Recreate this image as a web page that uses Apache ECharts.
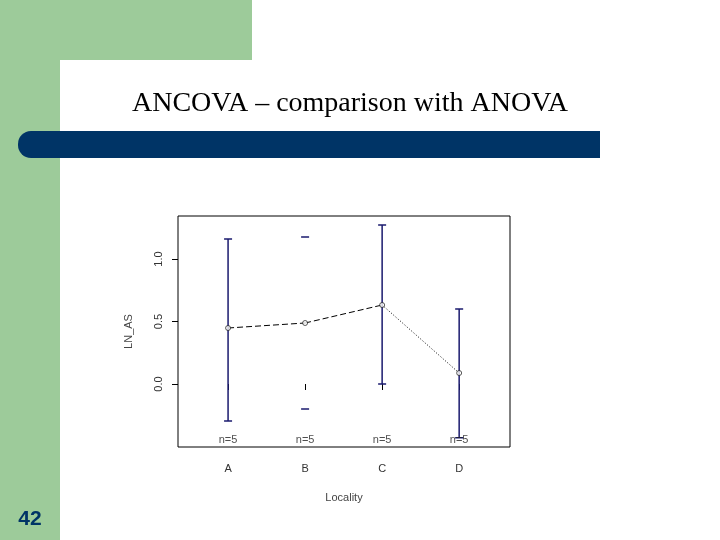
<!DOCTYPE html><html><head><meta charset="utf-8">
<script src="https://cdn.jsdelivr.net/npm/echarts@6/dist/echarts.min.js"></script>
<style>body{margin:0}#c{width:720px;height:540px}</style></head><body><div id="c"></div>
<script>
var categories=['A','B','C','D'];
var means=[0.448,0.488,0.632,0.088];
var upper=[1.16,1.176,1.272,0.6];
var lower=[-0.296,-0.2,0.0,-0.43];
var counts=['n=5','n=5','n=5','n=5'];
var yTicks=[0,0.5,1.0];
var chart=echarts.init(document.getElementById('c'));
function seg(i,type){return {type:'line',data:[[i+1,means[i]],[i+2,means[i+1]]],symbol:'none',silent:true,lineStyle:{color:'#000',width:1,type:type},z:3};}
chart.setOption({
 animation:false,
 graphic:[
  {type:'rect',shape:{x:0,y:0,width:60,height:540},style:{fill:'#9dcb9a'},z:-10},
  {type:'rect',shape:{x:0,y:0,width:252,height:60},style:{fill:'#9dcb9a'},z:-10},
  {type:'rect',shape:{x:60,y:60,width:300,height:300,r:[40,0,0,0]},style:{fill:'#fff'},z:-9},
  {type:'text',style:{text:'ANCOVA – comparison with ANOVA',x:350,y:104,align:'center',verticalAlign:'middle',font:'28px "Liberation Serif"',fill:'#000'}},
  {type:'rect',shape:{x:18,y:131,width:582,height:27,r:[13,0,0,13]},style:{fill:'#003466'}},
  {type:'text',style:{text:'42',x:30,y:519,align:'center',verticalAlign:'middle',font:'bold 21px "Liberation Sans"',fill:'#003466'}}
 ],
 grid:{left:178,top:216,width:332,height:231,show:true,borderColor:'#000',borderWidth:1,backgroundColor:'transparent'},
 xAxis:{type:'value',min:0.35,max:4.66,interval:1,name:'Locality',nameLocation:'middle',nameGap:45,
  nameTextStyle:{color:'#444',fontSize:11,fontFamily:'Liberation Sans'},
  axisLine:{show:false},splitLine:{show:false},
  axisTick:{show:true,customValues:[1,2,3,4],length:6,lineStyle:{color:'#000'}},
  axisLabel:{customValues:[1,2,3,4],formatter:function(v){return categories[Math.round(v)-1]||'';},color:'#333',fontSize:11,margin:16,fontFamily:'Liberation Sans'}},
 yAxis:{type:'value',min:-0.504,max:1.344,name:'LN_AS',nameLocation:'middle',nameGap:44,nameRotate:90,
  nameTextStyle:{color:'#444',fontSize:11,fontFamily:'Liberation Sans'},
  axisLine:{show:false},splitLine:{show:false},
  axisTick:{show:true,customValues:yTicks,length:6,lineStyle:{color:'#000'}},
  axisLabel:{customValues:yTicks,rotate:90,formatter:function(v){return v.toFixed(1);},color:'#333',fontSize:11,margin:14,fontFamily:'Liberation Sans'}},
 series:[
  {type:'custom',z:2,data:categories.map(function(c,i){return [i+1,lower[i],upper[i],i];}),
   renderItem:function(p,api){var x=api.value(0),lo=api.coord([x,api.value(1)]),hi=api.coord([x,api.value(2)]);
    var ch=[{type:'line',shape:{x1:lo[0]-4,y1:lo[1],x2:lo[0]+4,y2:lo[1]},style:{stroke:'#1a1a6e',lineWidth:1.5}},
            {type:'line',shape:{x1:hi[0]-4,y1:hi[1],x2:hi[0]+4,y2:hi[1]},style:{stroke:'#1a1a6e',lineWidth:1.5}}];
    if(api.value(3)!==1)ch.push({type:'line',shape:{x1:lo[0],y1:lo[1],x2:hi[0],y2:hi[1]},style:{stroke:'#1a1a6e',lineWidth:1.5}});
    return {type:'group',children:ch};}},
  seg(0,[6,3]),seg(1,[6,3]),seg(2,[1,2]),
  {type:'scatter',data:categories.map(function(c,i){return [i+1,means[i]];}),symbol:'circle',symbolSize:5,
   itemStyle:{color:'#fff',borderColor:'#000',borderWidth:0.8},z:4},
  {type:'scatter',data:categories.map(function(c,i){return [i+1,-0.504];}),symbolSize:0,z:5,
   label:{show:true,position:'top',distance:2,formatter:function(p){return counts[p.dataIndex];},color:'#222',fontSize:11,fontFamily:'Liberation Sans'}}
 ]
});
</script></body></html>
